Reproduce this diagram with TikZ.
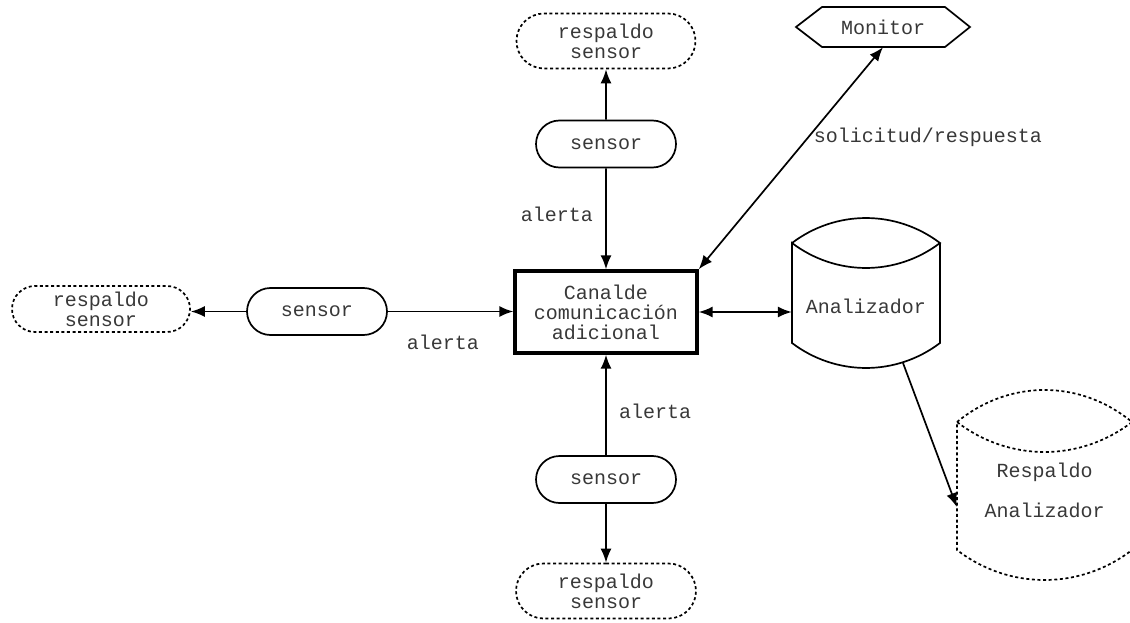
\documentclass[tikz,border=0pt]{standalone}
\usepackage{fontspec}
\newfontfamily\courfont{Liberation Mono}
\usetikzlibrary{arrows.meta,shapes.misc,calc}
\begin{document}
\begin{tikzpicture}[x=1pt,y=-1pt,
  every node/.style={font=\courfont\fontsize{20}{20}\selectfont, inner sep=0pt, align=center, text=black!78},
  line/.style={line width=1.7pt},
  arr/.style={line, -{Latex[length=14pt,width=11pt]}},
  darr/.style={line, {Latex[length=14pt,width=11pt]}-{Latex[length=14pt,width=11pt]}},
  sensorbox/.style={draw=black, line width=1.7pt, rounded rectangle, minimum width=140pt, minimum height=47pt},
  backupbox/.style={draw=black, line width=1.7pt, dash pattern=on 3pt off 2.6pt, rounded rectangle, minimum width=179pt, minimum height=55pt},
  outline/.style={line width=1.7pt},
  dashedoutline/.style={line width=1.7pt, dash pattern=on 3pt off 2.6pt}
]
\useasboundingbox (0,0) rectangle (1130,623);

% central channel
\node[draw=black, line width=3.4pt, minimum width=182pt, minimum height=82pt] (canal) at (606,312)
  {Canalde\\comunicación\\adicional};

% sensors
\node[sensorbox] (senTop) at (606,144) {sensor};
\node[sensorbox] (senLeft) at (317,311.5) {sensor};
\node[sensorbox] (senBot) at (606,479.5) {sensor};

% sensor backups
\node[backupbox] (resTop) at (606,41) {respaldo\\sensor};
\node[backupbox, minimum width=178pt, minimum height=46pt] (resLeft) at (101,309) {respaldo\\sensor};
\node[backupbox, minimum width=180pt] (resBot) at (606,591) {respaldo\\sensor};

% monitor (hexagon)
\node[minimum width=174pt, minimum height=40pt] (mon) at (883,27) {Monitor};
\draw[outline] (796,27) -- (822,7) -- (945,7) -- (970,27) -- (945,47) -- (822,47) -- cycle;

% analyser (cylinder)
\node[minimum width=148pt, minimum height=100pt] (ana) at (866,306) {Analizador};
\draw[outline] (792,243) .. controls (836,209.7) and (896,209.7) .. (940,243)
  .. controls (896,276.3) and (836,276.3) .. (792,243) -- (792,343)
  .. controls (836,376.3) and (896,376.3) .. (940,343) -- (940,243);
\coordinate (anaOut) at (903,363);

% analyser backup (dashed cylinder)
\node[minimum width=175pt, minimum height=190pt] (resAna) at (1044.5,490) {Respaldo\\[20pt]Analizador};
\draw[dashedoutline] (957,422) .. controls (1009,379.3) and (1080,379.3) .. (1132,422)
  .. controls (1080,462) and (1009,462) .. (957,422) -- (957,550)
  .. controls (1009,590) and (1080,590) .. (1132,550);

% connectors
\draw[arr] (senTop) -- (resTop);
\draw[arr] (senTop) -- (canal);
\draw[arr] (senBot) -- (canal);
\draw[arr] (senBot) -- (resBot);
\draw[arr] (senLeft) -- (resLeft.east |- senLeft.west);
\draw[arr] (senLeft.east) -- (senLeft.east -| canal.west);
\draw[darr] (canal.east) -- (canal.east -| ana.west);
\draw[darr] (canal.north east) -- (mon.south);
\draw[arr] (anaOut) -- ($(resAna.west)+(0,17)$);

% labels
\node (l1) at (557,214) {alerta};
\node (l2) at (443,342) {alerta};
\node (l3) at (655,411) {alerta};
\node (l4) at (928,137) {solicitud/respuesta};
\end{tikzpicture}
\end{document}
